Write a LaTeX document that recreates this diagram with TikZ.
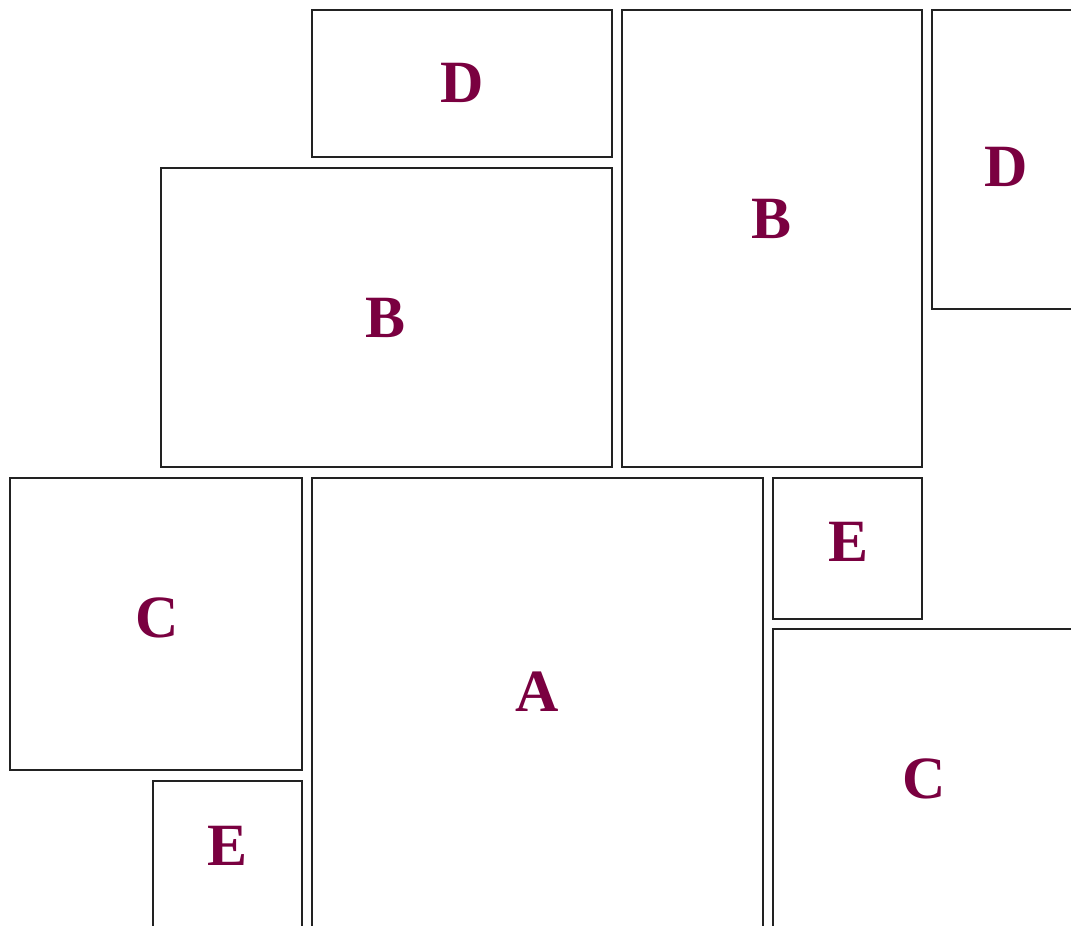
\documentclass[tikz,border=0pt]{standalone}
\usepackage{fontspec}
\setmainfont{Liberation Serif}
\definecolor{lbl}{HTML}{7A0040}
\definecolor{edge}{HTML}{222222}
\tikzset{
  box/.style={draw=edge, line width=2pt},
  lab/.style={text=lbl, font=\fontsize{60}{60}\selectfont\bfseries, inner sep=0pt, anchor=center}
}
\begin{document}
\begin{tikzpicture}[x=1pt,y=-1pt]
\useasboundingbox (0,0) rectangle (1071,926);
\clip (0,0) rectangle (1071,926);
\fill[white] (0,0) rectangle (1071,926);
\draw[box] (312,10) rectangle (612,157);
\draw[box] (161,168) rectangle (612,467);
\draw[box] (622,10) rectangle (922,467);
\draw[box] (932,10) rectangle (1090,309);
\draw[box] (10,478) rectangle (302,770);
\draw[box] (312,478) rectangle (763,940);
\draw[box] (773,478) rectangle (922,619);
\draw[box] (773,629) rectangle (1090,940);
\draw[box] (153,781) rectangle (302,940);
\node[lab] (d1) at (462,83) {D};
\node[lab] (b1) at (386,318) {B};
\node[lab] (b2) at (772,219) {B};
\node[lab] (d2) at (1006,167) {D};
\node[lab] (c1) at (157,618) {C};
\node[lab] (a) at (537,692) {A};
\node[lab] (e1) at (848,542) {E};
\node[lab] (c2) at (924,779) {C};
\node[lab] (e2) at (228,846) {E};
\end{tikzpicture}
\end{document}
